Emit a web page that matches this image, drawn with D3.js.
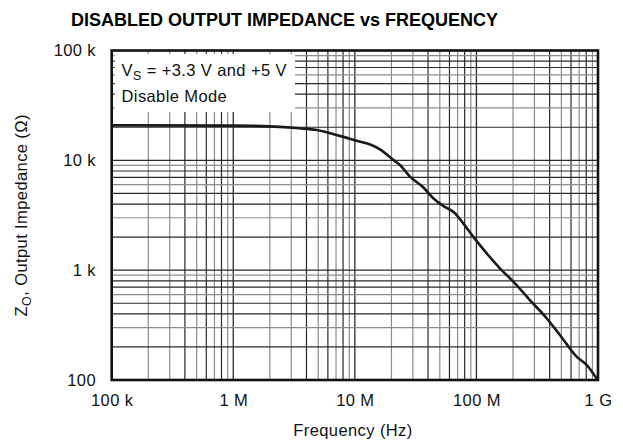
<!DOCTYPE html>
<html>
<head>
<meta charset="utf-8">
<script src="https://cdn.jsdelivr.net/npm/d3@7"></script>
<style>
  html, body { margin: 0; padding: 0; background: #fff; }
  svg { display: block; font-family: "Liberation Sans", Arial, Helvetica, sans-serif; }
</style>
</head>
<body>
<svg id="chart" width="623" height="448"></svg>
<script>
// ---- data ----
const freqHz = [1e5, 1e6, 2e6, 3.5e6, 4.85e6, 7.5e6, 10.3e6, 13.7e6, 16.1e6, 20.7e6, 23.5e6, 28.4e6,
  36.5e6, 44.2e6, 53.3e6, 66.6e6, 77.9e6, 94.1e6, 121e6, 156e6, 201e6, 275e6, 378e6, 486e6, 667e6, 806e6, 973e6, 1e9];
const impedanceOhm = [20800, 20700, 20400, 19600, 18900, 16700, 15100, 13800, 12600, 10100, 9080, 7100,
  5690, 4520, 3850, 3300, 2670, 2020, 1430, 1040, 785, 535, 365, 257, 163, 137, 104, 100];
const xTickValues = [1e5, 1e6, 1e7, 1e8, 1e9];
const xTickLabels = ["100 k", "1 M", "10 M", "100 M", "1 G"];
const yTickValues = [1e2, 1e3, 1e4, 1e5];
const yTickLabels = ["100", "1 k", "10 k", "100 k"];
const titleText = "DISABLED OUTPUT IMPEDANCE vs FREQUENCY";
const xLabelText = "Frequency (Hz)";
const legendLines = ["V", "Disable Mode"];

// ---- layout ----
const svg = d3.select("#chart");
const L = 111.7, R = 598, T = 50.5, B = 380;
const FS = 16.5, LS = "0.4px";
const x = d3.scaleLog().domain([1e5, 1e9]).range([L, R]);
const y = d3.scaleLog().domain([1e2, 1e5]).range([B, T]);

const DARK = "#2a2a2a", GRAY = "#8c8c8c";
const xMinorDark = {4: 1, 6: 1, 8: 1};
const yMinorDark = {2: 1, 4: 1, 5: 1, 7: 1, 8: 1};

const grid = svg.append("g");
for (let d = 5; d < 9; d++) {
  for (let m = 2; m <= 9; m++) {
    const v = m * Math.pow(10, d);
    grid.append("line")
      .attr("x1", x(v)).attr("x2", x(v)).attr("y1", T).attr("y2", B)
      .attr("stroke", xMinorDark[m] ? DARK : GRAY).attr("stroke-width", 1.2);
  }
  if (d > 5) {
    const v = Math.pow(10, d);
    grid.append("line").attr("x1", x(v)).attr("x2", x(v)).attr("y1", T).attr("y2", B)
      .attr("stroke", DARK).attr("stroke-width", 1.3);
  }
}
for (let d = 2; d < 5; d++) {
  for (let m = 2; m <= 9; m++) {
    const v = m * Math.pow(10, d);
    grid.append("line")
      .attr("x1", L).attr("x2", R).attr("y1", y(v)).attr("y2", y(v))
      .attr("stroke", yMinorDark[m] ? DARK : GRAY).attr("stroke-width", 1.2);
  }
  if (d > 2) {
    const v = Math.pow(10, d);
    grid.append("line").attr("x1", L).attr("x2", R).attr("y1", y(v)).attr("y2", y(v))
      .attr("stroke", DARK).attr("stroke-width", 1.3);
  }
}

// legend box
svg.append("rect").attr("x", L + 3).attr("y", T + 3.5)
  .attr("width", 295 - (L + 3)).attr("height", 112 - (T + 3.5)).attr("fill", "#fff");

const leg = svg.append("text").attr("x", 121.5).attr("y", 76).attr("font-size", FS)
  .attr("letter-spacing", LS).attr("fill", "#111");
leg.append("tspan").text("V");
leg.append("tspan").attr("font-size", 12.5).attr("dy", 4).text("S");
leg.append("tspan").attr("dy", -4).text(" = +3.3 V and +5 V");
svg.append("text").attr("x", 121.5).attr("y", 102).attr("font-size", FS)
  .attr("letter-spacing", LS).attr("fill", "#111").text(legendLines[1]);

// curve
const line = d3.line().x((d, i) => x(freqHz[i])).y((d, i) => y(impedanceOhm[i])).curve(d3.curveMonotoneX);
svg.append("path").datum(freqHz).attr("d", line)
  .attr("fill", "none").attr("stroke", "#1a1a1a").attr("stroke-width", 2.6).attr("stroke-linejoin", "round");

// frame
svg.append("rect").attr("x", L).attr("y", T).attr("width", R - L).attr("height", B - T)
  .attr("fill", "none").attr("stroke", "#111").attr("stroke-width", 2.6);

// axes
const xAxis = d3.axisBottom(x).tickValues(xTickValues)
  .tickFormat((d, i) => xTickLabels[i]).tickSize(0).tickPadding(0);
const gx = svg.append("g").attr("transform", `translate(0,${B + 14})`).call(xAxis);
gx.select(".domain").remove();
gx.selectAll("text").attr("font-size", FS).attr("letter-spacing", LS).attr("fill", "#111")
  .attr("font-family", null).attr("dy", "0.71em");

const yAxis = d3.axisLeft(y).tickValues(yTickValues)
  .tickFormat((d, i) => yTickLabels[i]).tickSize(0).tickPadding(0);
const gy = svg.append("g").attr("transform", `translate(96,0)`).call(yAxis);
gy.select(".domain").remove();
gy.selectAll("text").attr("font-size", FS).attr("letter-spacing", LS).attr("fill", "#111").attr("font-family", null);

// title
svg.append("text").attr("x", 284.5).attr("y", 26).attr("text-anchor", "middle")
  .attr("font-size", 18).attr("font-weight", "bold").attr("fill", "#000").text(titleText);

// x label
svg.append("text").attr("x", 353).attr("y", 436).attr("text-anchor", "middle")
  .attr("font-size", FS).attr("letter-spacing", LS).attr("fill", "#111").text(xLabelText);

// y label
const yl = svg.append("text").attr("transform", `translate(27,${(T + B) / 2}) rotate(-90)`)
  .attr("text-anchor", "middle").attr("font-size", FS).attr("letter-spacing", LS).attr("fill", "#111");
yl.append("tspan").text("Z");
yl.append("tspan").attr("font-size", 12.5).attr("dy", 4).text("O");
yl.append("tspan").attr("dy", -4).text(", Output Impedance (Ω)");
</script>
</body>
</html>
